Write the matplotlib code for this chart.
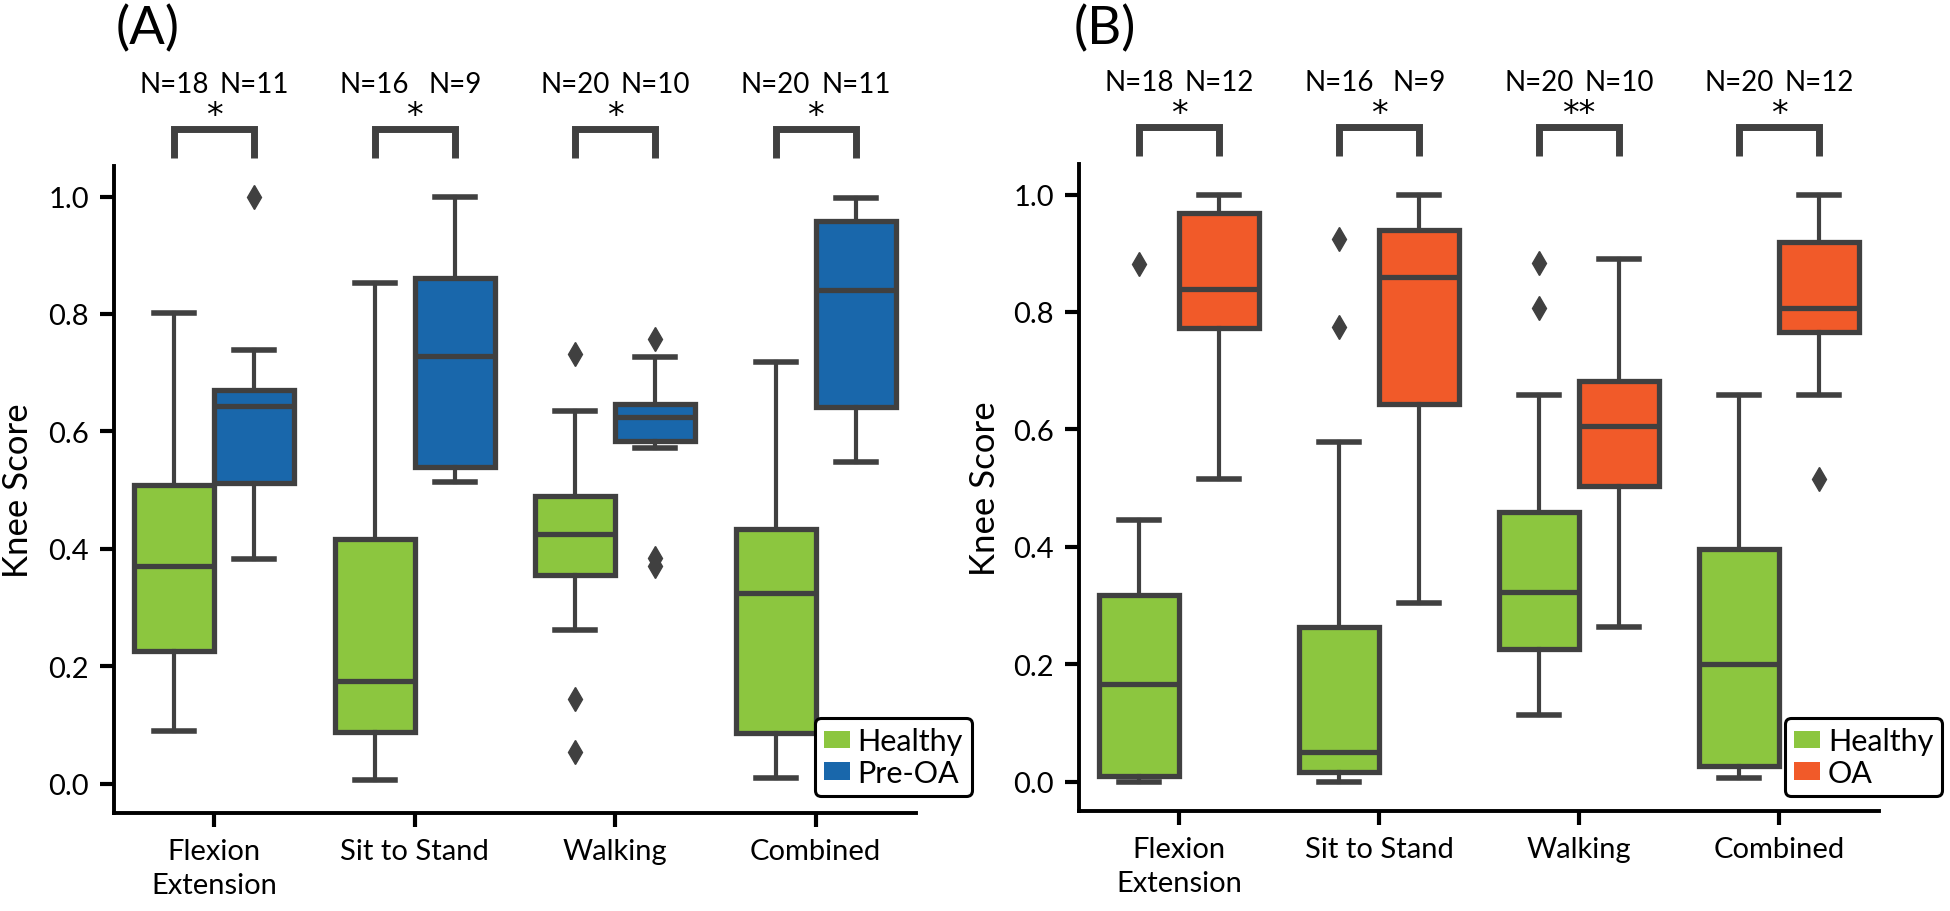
import matplotlib
matplotlib.use("Agg")
import matplotlib.pyplot as plt
from matplotlib.patches import Patch

plt.rcParams['font.family'] = ['Lato', 'DejaVu Sans']

categories = ['Flexion\nExtension', 'Sit to Stand', 'Walking', 'Combined']

# five-number summaries per category: [whislo, q1, median, q3, whishi]
a_healthy = [[0.090, 0.226, 0.370, 0.509, 0.801],
             [0.006, 0.088, 0.174, 0.416, 0.852],
             [0.262, 0.356, 0.425, 0.490, 0.635],
             [0.009, 0.086, 0.324, 0.433, 0.718]]
a_healthy_fliers = [[], [], [0.732, 0.144, 0.054], []]
a_preoa = [[0.383, 0.512, 0.643, 0.670, 0.738],
           [0.514, 0.539, 0.728, 0.861, 1.000],
           [0.571, 0.583, 0.625, 0.647, 0.727],
           [0.548, 0.642, 0.840, 0.959, 0.997]]
a_preoa_fliers = [[1.0], [], [0.757, 0.385, 0.371], []]

b_healthy = [[0.000, 0.009, 0.166, 0.318, 0.446],
             [0.000, 0.016, 0.051, 0.264, 0.578],
             [0.113, 0.226, 0.323, 0.459, 0.658],
             [0.006, 0.026, 0.201, 0.397, 0.658]]
b_healthy_fliers = [[0.881], [0.924, 0.774], [0.884, 0.807], []]
b_oa = [[0.516, 0.772, 0.839, 0.968, 1.000],
        [0.304, 0.644, 0.860, 0.940, 1.000],
        [0.263, 0.503, 0.606, 0.682, 0.891],
        [0.659, 0.766, 0.807, 0.919, 1.000]]
b_oa_fliers = [[], [], [], [0.516]]

a_n_healthy = [18, 16, 20, 20]
a_n_preoa = [11, 9, 10, 11]
b_n_healthy = [18, 16, 20, 20]
b_n_oa = [12, 9, 10, 12]
a_stars = ['*', '*', '*', '*']
b_stars = ['*', '*', '**', '*']

GREEN = '#8cc63f'
BLUE = '#1967ab'
ORANGE = '#f15a29'
EDGE = '#404040'


def make_stats(summary, fliers):
    out = []
    for s, f in zip(summary, fliers):
        out.append(dict(whislo=s[0], q1=s[1], med=s[2], q3=s[3], whishi=s[4], fliers=f))
    return out


def draw_panel(ax, healthy, h_fliers, other, o_fliers, other_color, other_name,
               n_h, n_o, stars, label_x, legend_x, legend_y):
    for stats, color, offset in [(make_stats(healthy, h_fliers), GREEN, -0.2),
                                 (make_stats(other, o_fliers), other_color, 0.2)]:
        pos = [i + offset for i in range(len(categories))]
        ax.bxp(stats, positions=pos, widths=0.4, patch_artist=True, capwidths=0.2,
               boxprops=dict(facecolor=color, edgecolor=EDGE, linewidth=3.8),
               medianprops=dict(color=EDGE, linewidth=3.8),
               whiskerprops=dict(color=EDGE, linewidth=3.0),
               capprops=dict(color=EDGE, linewidth=4.0),
               flierprops=dict(marker='d', markerfacecolor=EDGE, markeredgecolor=EDGE,
                               markersize=12))

    for i in range(len(categories)):
        x1, x2 = i - 0.2, i + 0.2
        ax.plot([x1, x1, x2, x2], [1.065, 1.1155, 1.1155, 1.065], color=EDGE, lw=5,
                clip_on=False, solid_joinstyle='miter', solid_capstyle='butt')
        ax.text(i, 1.121, stars[i], ha='center', va='baseline', fontsize=24,
                family='DejaVu Sans', clip_on=False)
        ax.text(x1, 1.178, f'N={n_h[i]}', ha='center', va='baseline', fontsize=20, clip_on=False)
        ax.text(x2, 1.178, f'N={n_o[i]}', ha='center', va='baseline', fontsize=20, clip_on=False)

    ax.set_xlim(-0.5, 3.5)
    ax.set_ylim(-0.05, 1.052)
    ax.set_xticks(range(len(categories)))
    ax.set_xticklabels(categories, fontsize=21, linespacing=1.4)
    ax.set_yticks([0.0, 0.2, 0.4, 0.6, 0.8, 1.0])
    ax.set_yticklabels(['0.0', '0.2', '0.4', '0.6', '0.8', '1.0'], fontsize=21)
    ax.tick_params(axis='both', length=10, width=3, color='black')
    ax.tick_params(axis='y', pad=8)
    ax.tick_params(axis='x', pad=8)
    for side in ['top', 'right']:
        ax.spines[side].set_visible(False)
    for side in ['left', 'bottom']:
        ax.spines[side].set_linewidth(2.8)
        ax.spines[side].set_color('black')
    ax.set_ylabel('Knee Score', fontsize=25, va='center')
    ax.yaxis.set_label_coords(label_x, 0.5)

    handles = [Patch(facecolor=GREEN, edgecolor='none', label='Healthy'),
               Patch(facecolor=other_color, edgecolor='none', label=other_name)]
    leg = ax.legend(handles=handles, loc='lower left', bbox_to_anchor=(legend_x, legend_y),
                    borderaxespad=0, fontsize=22, handlelength=0.85, handleheight=0.5,
                    handletextpad=0.25, labelspacing=0.12, borderpad=0.3,
                    fancybox=True, framealpha=1)
    leg.get_frame().set_edgecolor('black')
    leg.get_frame().set_linewidth(2.2)
    leg.set_clip_on(False)


fig = plt.figure(figsize=(19.5, 9.12), dpi=100)
ax_a = fig.add_axes([0.0585, 0.1075, 0.4112, 0.7094])
ax_b = fig.add_axes([0.5533, 0.1096, 0.4103, 0.7095])

draw_panel(ax_a, a_healthy, a_healthy_fliers, a_preoa, a_preoa_fliers, BLUE, 'Pre-OA',
           a_n_healthy, a_n_preoa, a_stars, -0.12, 0.874, 0.026)
draw_panel(ax_b, b_healthy, b_healthy_fliers, b_oa, b_oa_fliers, ORANGE, 'OA',
           b_n_healthy, b_n_oa, b_stars, -0.117, 0.8825, 0.023)

fig.text(0.0595, 0.951, '(A)', fontsize=38, va='baseline')
fig.text(0.5505, 0.951, '(B)', fontsize=38, va='baseline')

fig.savefig('out.png', dpi=100)
